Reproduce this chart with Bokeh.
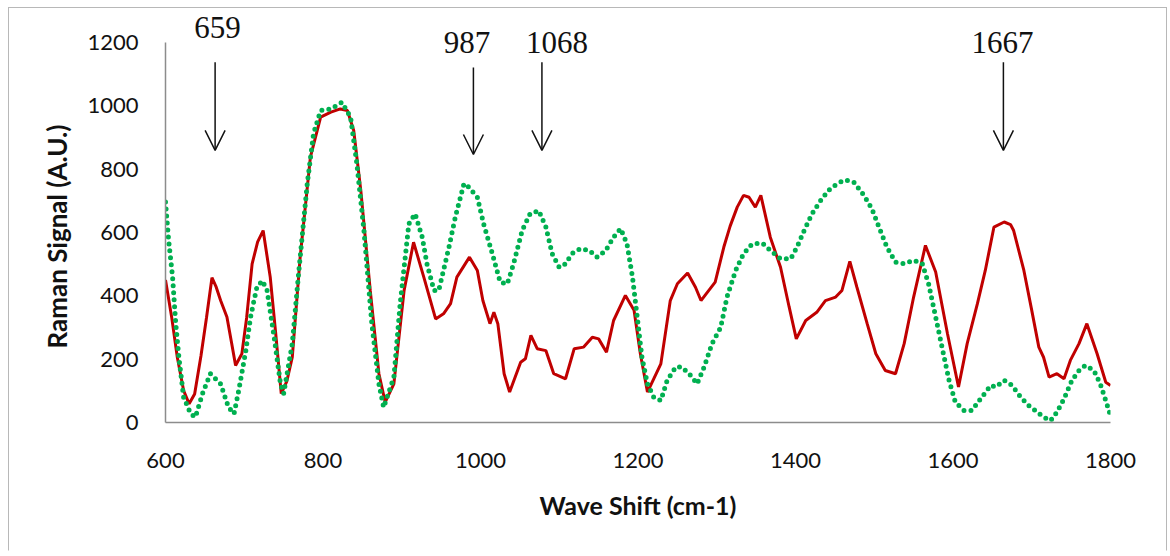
from bokeh.plotting import figure
from bokeh.models import Range1d, FixedTicker, Label, Arrow, OpenHead, Title
from bokeh.embed import file_html
from bokeh.resources import INLINE

# ---- data ----
red_x = [600, 608, 615, 623, 630, 637, 645, 652, 659, 664, 670, 678, 684, 689, 697, 703, 710, 717, 724, 733,
         740, 747, 754, 761, 771, 784, 797, 810, 822, 831, 839, 848, 860, 871, 879, 890, 903, 915, 928, 943,
         953, 962, 970, 986, 996, 1003, 1012, 1017, 1022, 1030, 1037, 1051, 1057, 1064, 1072, 1083, 1093, 1108,
         1119, 1131, 1142, 1150, 1160, 1169, 1184, 1195, 1203, 1212, 1229, 1241, 1250, 1263, 1273, 1280, 1288,
         1298, 1309, 1317, 1326, 1334, 1341, 1349, 1356, 1368, 1381, 1392, 1401, 1413, 1427, 1438, 1451, 1459,
         1469, 1478, 1491, 1502, 1514, 1527, 1538, 1550, 1565, 1578, 1593, 1607, 1618, 1631, 1641, 1652, 1665,
         1673, 1677, 1690, 1700, 1709, 1715, 1722, 1732, 1741, 1749, 1760, 1770, 1783, 1794, 1800]
red_y = [450, 330, 206, 101, 59, 90, 210, 330, 457, 430, 385, 333, 250, 180, 217, 330, 501, 570, 606, 459,
         280, 91, 130, 206, 522, 838, 964, 980, 990, 985, 922, 733, 417, 154, 64, 122, 417, 569, 459, 327,
         343, 375, 459, 522, 480, 385, 312, 348, 312, 154, 96, 190, 201, 275, 233, 227, 154, 138,
         233, 238, 269, 264, 222, 322, 401, 354, 217, 96, 185, 385, 438, 472, 427, 385, 411,
         443, 554, 620, 680, 717, 711, 680, 717, 585, 490, 364, 264, 322, 348, 385, 396, 417,
         509, 427, 312, 217, 164, 154, 249, 396, 559, 475, 280, 112, 249, 375, 480, 617, 633,
         625, 606, 480, 354, 238, 206, 143, 154, 138, 196, 249, 312, 217, 127, 117]

green_x = [600, 604, 609, 613, 617, 623, 632, 638, 647, 657, 670, 680, 687, 693, 702, 708, 716, 723, 729, 738,
           746, 750, 761, 769, 780, 788, 797, 810, 824, 835, 843, 852, 862, 871, 877, 890, 898, 909, 917, 926,
           932, 941, 947, 953, 960, 968, 979, 985, 996, 1004, 1015, 1025, 1034, 1042, 1053, 1063, 1074, 1083,
           1091, 1100, 1108, 1116, 1127, 1138, 1148, 1159, 1169, 1178, 1186, 1193, 1199, 1205, 1212, 1220, 1229,
           1237, 1248, 1256, 1267, 1275, 1284, 1294, 1305, 1313, 1324, 1334, 1345, 1358, 1368, 1381, 1394, 1402,
           1411, 1421, 1432, 1442, 1453, 1463, 1474, 1487, 1497, 1506, 1516, 1527, 1538, 1550, 1561, 1569, 1578,
           1587, 1595, 1603, 1614, 1624, 1635, 1648, 1654, 1665, 1675, 1686, 1696, 1707, 1715, 1724, 1732, 1741,
           1751, 1760, 1768, 1779, 1787, 1794, 1800]
green_y = [696, 575, 459, 312, 206, 80, 27, 17, 91, 154, 122, 48, 27, 101, 227, 333, 427, 448, 417, 269,
           122, 91, 249, 470, 754, 912, 985, 990, 1011, 964, 817, 606, 312, 122, 48, 143, 375, 627, 659, 585,
           501, 417, 417, 480, 554, 648, 754, 743, 711, 627, 533, 443, 438, 501, 607, 659, 669, 617,
           533, 490, 501, 533, 549, 543, 522, 543, 585, 612, 564, 459, 333, 206, 122, 80, 69,
           133, 175, 175, 148, 122, 175, 249, 300, 396, 480, 533, 564, 566, 543, 517, 517, 554,
           606, 659, 701, 733, 754, 766, 759, 717, 675, 617, 554, 506, 501, 512, 501, 438, 333,
           227, 133, 64, 38, 38, 75, 117, 112, 133, 117, 80, 54, 33, 17, 6, 33, 75,
           133, 164, 180, 164, 122, 69, 22]

x_ticks = [600, 800, 1000, 1200, 1400, 1600, 1800]
y_ticks = [0, 200, 400, 600, 800, 1000, 1200]

peak_labels = ["659", "987", "1068", "1667"]
peak_label_x = [666, 983, 1097, 1663]
peak_label_y = [1247, 1200, 1200, 1200]
arrow_x = [663, 991, 1078, 1664]
arrow_top = [1137, 1121, 1137, 1137]
arrow_bottom = [859, 846, 859, 859]

# ---- figure ----
p = figure(width=1159, height=544, output_backend="svg", toolbar_location=None,
           x_range=Range1d(600, 1800), y_range=Range1d(0, 1307),
           min_border_left=156, min_border_right=58, min_border_top=0, min_border_bottom=130)
p.styles = {"border": "1px solid #b8b8b8", "border-bottom-color": "white",
            "margin-left": "8px", "margin-top": "7px"}
p.outline_line_color = None
p.grid.visible = False
p.background_fill_color = "white"
p.border_fill_color = "white"

p.line(red_x, red_y, line_color="#C00000", line_width=3)
p.line(green_x, green_y, line_color="#00B050", line_width=5, line_dash="0 7", line_cap="round")

for ax in (p.xaxis[0], p.yaxis[0]):
    ax.axis_line_color = "#8c8c8c"
    ax.axis_line_width = 1.5
    ax.major_tick_line_color = None
    ax.minor_tick_line_color = None
    ax.major_tick_out = 0
    ax.major_tick_in = 0
    ax.major_label_text_font = "Lato"
    ax.major_label_text_font_size = "22px"
    ax.major_label_text_color = "#111111"
    ax.axis_label_text_font = "Lato"
    ax.axis_label_text_font_style = "bold"
    ax.axis_label_text_font_size = "25px"
    ax.axis_label_text_color = "#111111"

p.xaxis.ticker = FixedTicker(ticks=x_ticks)
p.yaxis.ticker = FixedTicker(ticks=y_ticks)
p.yaxis.bounds = (0, 1200)
p.xaxis.bounds = (600, 1800)
p.xaxis.axis_label = "Wave Shift (cm-1)"
p.xaxis.major_label_standoff = 30
p.yaxis.major_label_standoff = 27
p.xaxis.axis_label_standoff = 19

ytitle = Title(text="Raman Signal (A.U.)", align="left", offset=74, standoff=24,
               text_font="Lato", text_font_style="bold", text_font_size="26px",
               text_color="#111111")
p.add_layout(ytitle, "left")

for t, lx, ly in zip(peak_labels, peak_label_x, peak_label_y):
    p.add_layout(Label(x=lx, y=ly, text=t, text_font="Liberation Serif", text_font_size="31px",
                       text_align="center", text_baseline="middle", text_color="#111111"))

for ax_, yt, yb in zip(arrow_x, arrow_top, arrow_bottom):
    p.add_layout(Arrow(end=OpenHead(size=20, line_width=1.5, line_color="#111111"),
                       x_start=ax_, y_start=yt, x_end=ax_, y_end=yb,
                       line_width=1.5, line_color="#111111"))

open("out.html", "w").write(file_html(p, INLINE))
